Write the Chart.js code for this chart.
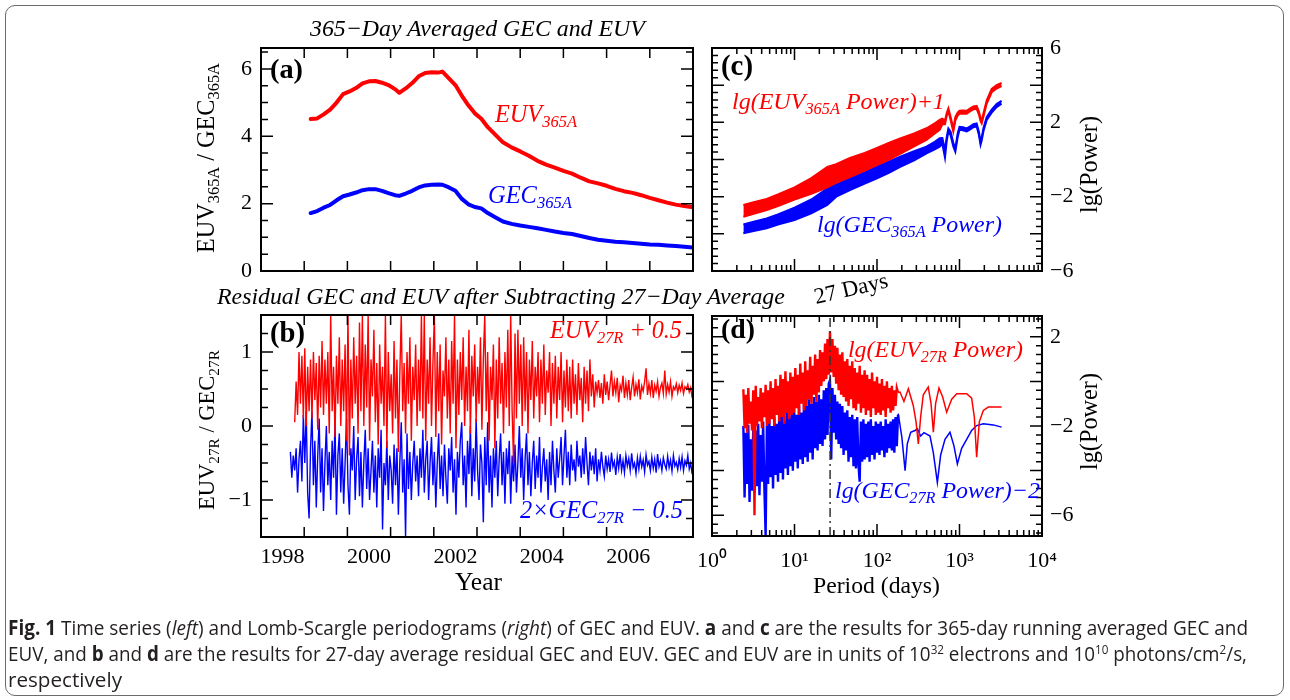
<!DOCTYPE html>
<html><head><meta charset="utf-8">
<script src="https://cdn.jsdelivr.net/npm/chart.js@4.4.1/dist/chart.umd.min.js"></script>
<style>
html,body{margin:0;padding:0;background:#fff;}
body{width:1290px;height:700px;position:relative;overflow:hidden;}
canvas{position:absolute;left:0;top:0;}
#frame{position:absolute;left:5px;top:5px;width:1277px;height:689px;border:1.5px solid #6b6b6b;border-radius:10px;}
.lbl{position:absolute;white-space:nowrap;line-height:1;}
.lbl sub{font-size:0.68em;vertical-align:-0.3em;line-height:0;}
.lbl sup{font-size:0.62em;vertical-align:0.55em;line-height:0;}
.bl{display:inline-block;width:0;height:0;vertical-align:baseline;}
</style></head><body>
<div id="frame"></div>
<canvas id="cA" width="1290" height="700"></canvas>
<canvas id="cB" width="1290" height="700"></canvas>
<canvas id="cC" width="1290" height="700"></canvas>
<canvas id="cD" width="1290" height="700"></canvas>
<script>
// ================= DATA =================
// (a) 365-day averaged series
const aYears = [1998.65,1998.8,1998.95,1999.1,1999.25,1999.4,1999.55,1999.7,1999.85,2000.0,2000.15,2000.3,2000.45,2000.6,2000.7,2000.85,2001.0,2001.15,2001.3,2001.45,2001.6,2001.7,2001.85,2002.0,2002.15,2002.3,2002.45,2002.6,2002.75,2002.9,2003.1,2003.3,2003.5,2003.7,2003.9,2004.1,2004.3,2004.5,2004.7,2004.9,2005.1,2005.3,2005.5,2005.7,2005.9,2006.1,2006.3,2006.5,2006.7,2006.9,2007.1,2007.3,2007.5];
const aEUV = [4.51,4.53,4.65,4.79,5.0,5.25,5.33,5.43,5.57,5.63,5.64,5.59,5.52,5.40,5.29,5.42,5.58,5.78,5.88,5.90,5.89,5.92,5.72,5.52,5.20,4.92,4.68,4.52,4.27,4.08,3.82,3.67,3.55,3.42,3.27,3.16,3.07,2.97,2.89,2.77,2.66,2.60,2.53,2.44,2.37,2.32,2.25,2.17,2.10,2.03,1.97,1.93,1.89];
const aGEC = [1.72,1.78,1.88,1.96,2.10,2.22,2.27,2.33,2.40,2.43,2.43,2.38,2.31,2.25,2.23,2.30,2.38,2.48,2.54,2.56,2.57,2.56,2.48,2.38,2.14,1.98,1.90,1.86,1.72,1.61,1.47,1.40,1.35,1.31,1.27,1.22,1.17,1.13,1.10,1.04,0.98,0.93,0.90,0.87,0.85,0.83,0.81,0.79,0.78,0.76,0.74,0.72,0.70];

// (b) 27-day residuals (regular sampling, 30 per year)
const bEUVStart = 1998.28, bGECStart = 1998.18, bStep = 1/30;
const bEUV = [0.05,0.6,0.15,1.0,0.3,0.95,0.1,1.05,0.0,0.8,
0.2,0.9,0.1,1.0,0.35,0.85,-0.05,0.95,0.25,1.15,0.15,0.9,0.3,1.0,-0.1,1.5,0.2,0.8,-0.15,0.95,
0.3,1.2,0.0,0.9,0.2,1.1,-0.2,1.5,-0.4,0.9,
0.1,1.2,0.3,0.95,-0.1,1.4,0.2,1.5,0.0,1.1,0.25,1.5,-0.2,0.9,0.4,1.3,0.05,0.85,-0.25,1.1,
0.3,0.8,0.0,1.5,-0.3,1.0,0.2,0.7,-0.1,1.15,
0.1,0.9,-0.35,0.7,1.5,0.2,0.85,-0.1,1.0,0.3,1.2,-0.2,0.8,0.35,1.1,0.0,0.9,0.2,1.5,0.1,
1.5,-0.2,0.9,0.3,1.2,0.0,0.85,1.5,-0.15,1.0,
0.2,1.1,-0.25,0.75,0.4,1.2,0.1,0.9,-0.1,1.15,0.3,1.5,-0.3,0.9,0.15,1.0,0.35,1.2,0.0,0.8,
0.2,1.3,-0.1,0.95,0.4,1.1,0.05,0.8,0.3,1.2,
-0.05,0.9,1.5,0.2,1.0,-0.2,0.8,0.35,1.1,-0.3,0.9,0.1,1.2,0.3,0.85,-0.1,1.0,0.25,1.3,0.0,
1.5,0.2,-0.5,1.25,0.1,1.3,0.3,1.1,0.0,1.2,
0.2,1.0,-0.1,0.9,0.35,1.15,0.1,0.8,0.4,1.0,0.05,0.9,0.3,1.1,0.15,0.75,0.45,1.0,0.0,0.85,
0.3,0.95,0.1,0.8,0.35,1.0,0.05,0.75,0.25,0.9,
0.2,0.8,0.1,0.9,0.3,0.7,0.15,0.85,0.35,0.65,0.05,0.8,0.3,0.75,0.2,0.9,0.4,0.7,0.25,0.6,
0.45,0.62,0.38,0.58,0.3,0.7,0.42,0.6,0.35,0.55,0.75,0.4,0.6,0.45,0.65,0.32,0.55,0.48,0.68,0.38,
0.58,0.42,0.62,0.35,0.52,0.66,0.4,0.56,0.45,0.63,0.36,0.54,0.47,0.6,0.78,0.42,0.57,0.44,0.62,0.38,
0.55,0.47,0.6,0.4,0.52,0.58,0.44,0.75,0.43,0.56,0.46,0.6,0.4,0.53,0.49,0.57,0.45,0.55,0.48,0.58,
0.44,0.53,0.5,0.56,0.46,0.52,0.38];
const bGEC = [-0.35,-0.7,-0.4,-0.6,-0.3,-0.9,-0.45,-0.2,-0.75,0.15,
-0.5,0.2,-0.9,-1.25,-0.3,0.2,-0.8,-0.2,-1.1,-0.4,0.1,-0.9,-0.3,-1.15,-0.5,0.0,-0.8,-0.35,-1.0,-0.2,
-0.7,0.05,-1.2,-0.4,-0.1,-0.9,-0.3,-1.05,-0.5,0.1,
-0.8,-1.2,-0.3,-0.6,0.0,-1.0,-0.45,-0.15,-0.95,-0.35,-1.1,-0.5,-0.05,-0.85,-0.3,-1.0,-0.6,-0.2,-0.9,-0.4,
-1.1,-0.3,-0.7,-0.05,-1.4,-0.5,-0.8,-0.2,-1.0,-0.4,
-0.6,-1.05,-0.25,-0.8,-0.3,-1.2,-0.5,0.05,-0.9,-0.45,-1.5,-0.1,-0.85,-0.35,-1.0,-0.5,-0.2,-0.75,-0.4,-0.95,
-0.3,-0.7,-0.05,-0.9,-0.45,-0.2,-1.0,-0.5,-0.15,-0.8,
-0.35,-1.1,-0.5,-0.1,-0.85,-0.4,-0.95,-0.25,-0.7,-1.05,-0.3,-0.6,-0.15,-0.9,-0.45,-1.2,-0.35,-0.7,-0.2,0.05,
-0.8,-0.4,-1.1,-0.2,-0.65,0.0,-0.95,-0.3,-0.75,0.1,
-0.6,-1.0,-0.25,-0.5,-1.3,-0.15,-0.8,0.05,-0.9,-0.4,-1.1,-0.3,-0.7,-0.2,-0.95,-0.45,-0.1,-0.8,-0.35,-1.05,
-0.3,-0.65,-0.2,-1.05,-0.4,-0.75,-0.25,-0.9,-0.5,0.0,
-0.7,-0.3,-1.0,-0.45,-0.1,-0.8,-0.35,-0.95,-0.5,-0.2,-0.85,-0.4,-0.7,-0.15,-0.9,-0.55,-0.3,-0.75,-0.45,-1.0,
-0.35,-0.8,-0.2,-0.6,-0.9,-0.3,-0.7,-0.45,-0.15,-0.8,
-0.4,-0.05,-0.7,-0.35,-0.8,-0.25,-0.6,-0.45,-0.75,-0.2,-0.55,-0.4,-0.7,-0.3,-0.65,-0.15,-0.5,-0.8,-0.35,-0.6,
-0.4,-0.65,-0.3,-0.75,-0.45,-0.6,-0.35,-0.55,-0.68,-0.4,-0.58,-0.45,-0.62,-0.36,-0.55,-0.48,-0.66,-0.42,-0.57,-0.38,
-0.6,-0.47,-0.63,-0.4,-0.54,-0.44,-0.6,-0.37,-0.56,-0.5,-0.64,-0.43,-0.58,-0.41,-0.55,-0.46,-0.62,-0.39,-0.53,-0.48,
-0.6,-0.42,-0.57,-0.45,-0.63,-0.38,-0.55,-0.47,-0.6,-0.43,-0.52,-0.58,-0.41,-0.56,-0.46,-0.61,-0.4,-0.54,-0.49,-0.59,
-0.44,-0.56,-0.42,-0.6,-0.47,-0.53,-0.4,-0.58,-0.5,-0.65];

// (c) periodograms of 365-day averages: upper/lower edges of the plotted band
const cPeriods = [2.4,3.2,4.6,6.3,10,16,25,32,47,71,100,141,191,282,398,501,575,620,667,700,733,780,841,890,950,1000,1100,1222,1350,1472,1614,1720,1800,1858,1950,2133,2455,2818,3236];
const cEUVHi = [-2.45,-2.3,-2.12,-1.88,-1.5,-1.0,-0.4,-0.25,0.08,0.35,0.62,0.9,1.14,1.4,1.68,1.95,2.13,2.2,2.1,2.5,2.75,2.3,1.65,2.28,2.52,2.62,2.64,2.62,2.76,2.86,2.89,2.58,2.22,2.1,2.48,3.17,3.8,4.0,4.12];
const cEUVLo = [-3.08,-2.92,-2.72,-2.5,-2.16,-1.85,-1.5,-1.25,-0.95,-0.6,-0.3,0.0,0.3,0.7,1.05,1.4,1.6,1.9,1.9,2.35,2.6,2.12,1.5,2.1,2.36,2.46,2.48,2.46,2.6,2.7,2.73,2.42,2.06,1.94,2.3,3.0,3.62,3.82,3.95];
const cGECHi = [-3.49,-3.35,-3.17,-2.95,-2.59,-2.15,-1.55,-1.35,-1.01,-0.7,-0.39,-0.1,0.15,0.45,0.69,0.95,1.14,1.15,0.5,1.2,1.67,1.5,0.9,0.6,1.4,1.76,1.73,1.67,1.78,1.9,1.94,1.48,0.95,1.18,1.68,2.28,2.68,2.98,3.16];
const cGECLo = [-3.97,-3.85,-3.7,-3.5,-3.26,-2.9,-2.45,-2.0,-1.64,-1.3,-1.01,-0.7,-0.39,-0.05,0.33,0.55,0.69,0.85,0.1,1.0,1.5,1.3,0.7,0.42,1.2,1.6,1.57,1.51,1.62,1.74,1.78,1.32,0.79,1.02,1.52,2.12,2.52,2.82,3.0];

// (d) periodograms of 27-day residuals; dense part sampled on a regular lg(period) grid
const dDenseLog0 = 0.38, dDenseLogStep = 0.015;
const dEUVDense = [-0.35,-2.1,-0.6,-2.3,-0.3,-1.9,-0.9,-2.2,-0.4,-6.0,
-0.2,-2.0,-0.7,-1.8,-0.3,-2.1,-0.5,-1.6,-0.15,-2.0,
-0.4,-1.9,0.0,-1.7,-0.3,-2.0,0.1,-1.5,-0.2,-1.8,
0.3,-1.6,0.1,-1.9,0.45,-1.4,0.0,-1.7,0.4,-1.5,
0.2,-1.4,0.6,-1.2,0.3,-1.5,0.8,-1.0,0.4,-1.3,
0.9,-1.1,0.5,-0.8,1.1,-1.0,0.7,-0.6,1.2,-0.9,
1.0,-0.5,1.4,-0.2,1.3,0.0,1.7,0.1,1.9,0.3,
2.25,0.4,1.9,0.2,1.6,-0.1,1.5,-0.4,1.2,-0.6,
1.3,-0.7,0.9,-0.9,1.0,-1.1,0.7,-0.8,0.9,-1.2,
0.6,-1.3,0.4,-1.0,0.7,-1.4,0.3,-1.2,0.5,-1.5,
0.3,-1.3,0.1,-1.6,0.4,-1.2,0.0,-1.5,0.2,-1.4,
-0.1,-1.5,0.1,-1.3,-0.2,-1.6,0.0,-1.2,-0.3,-1.4,
-0.2,-1.3,-0.4,-1.1,-0.3,-0.5];
const dGECDense = [-2.0,-5.2,-2.3,-4.6,-1.95,-5.4,-2.6,-4.9,-2.1,-5.0,
-2.2,-4.7,-1.9,-5.1,-2.4,-4.5,-1.8,-4.8,-6.9,-2.0,
-4.6,-1.7,-4.3,-2.0,-4.8,-1.6,-4.2,-1.9,-4.5,-1.5,
-4.1,-1.4,-4.4,-1.8,-3.9,-1.3,-4.2,-1.6,-3.8,-1.4,
-4.0,-1.2,-3.6,-1.5,-3.9,-1.1,-3.5,-1.4,-3.7,-1.0,
-3.4,-1.1,-3.6,-0.8,-3.2,-1.0,-3.5,-0.7,-3.0,-0.9,
-3.1,-0.6,-2.8,-0.8,-2.9,-0.4,-2.6,-0.3,-2.4,-0.1,
0.05,-3.5,-0.3,-2.3,-0.6,-2.6,-0.9,-2.8,-1.0,-3.0,
-1.1,-3.3,-1.4,-3.1,-1.3,-3.6,-1.6,-3.4,-1.5,-3.8,
-1.7,-3.9,-1.6,-3.7,-4.5,-1.8,-3.6,-1.7,-3.5,-1.9,
-3.4,-1.8,-3.6,-1.7,-3.3,-2.0,-3.5,-1.8,-3.2,-1.9,
-3.3,-1.8,-3.1,-2.0,-3.4,-1.7,-3.2,-1.9,-3.0,-1.8,
-3.1,-1.7,-3.2,-1.6,-2.9,-1.5];
const dEUVTailP = [190,212,240,275,297,317,338,364,418,452,482,513,564,625,699,804,925,1222,1404,1513,1614,1740,1945,2238,3243];
const dEUVTail  = [-0.48,-0.9,-0.33,-1.08,-1.8,-2.8,-1.6,-0.6,-0.25,-1.0,-2.28,-1.0,-0.3,-0.7,-1.38,-0.8,-0.55,-0.55,-0.75,-1.6,-3.4,-1.8,-1.3,-1.15,-1.15];
const dGECTailP = [181,200,219,233,256,289,309,338,371,439,482,539,591,667,767,858,942,1062,1222,1404,1614,1945,2570,3243];
const dGECTail  = [-1.45,-2.5,-4.0,-2.8,-2.28,-2.2,-2.13,-2.45,-2.3,-2.45,-3.2,-4.53,-3.3,-2.6,-2.28,-2.9,-3.7,-3.0,-2.6,-2.2,-1.98,-1.9,-1.95,-2.05];
const dMarkPeriod = 27;

// tick labels
const yearTickLabels = [1998,2000,2002,2004,2006];
const yearTickMarks = [1998.5,1999.5,2000.5,2001.5,2002.5,2003.5,2004.5,2005.5,2006.5];
const logTickValues = [1,10,100,1000,10000];
const logTickLabels = ['10\u2070','10\u00B9','10\u00B2','10\u00B3','10\u2074'];
const aYTicks = [0,2,4,6];
const bYTicks = [-1,0,1];
const cYTicks = [-6,-2,2,6];
const dYTicks = [-6,-2,2];

// ================= HELPERS =================
const RED = '#ff0000', BLUE = '#0000ff';
const steps = (a,b,s) => { const r=[]; for(let v=a; v<=b+1e-9; v+=s) r.push(Math.round(v*1000)/1000); return r; };
const logMinor = [];
[1,10,100,1000].forEach(d => { for (let k=2;k<=9;k++) logMinor.push(k*d); });
const minus = v => (v<0 ? '\u2212' : '') + Math.abs(v);
const tickFont = {family:'"Liberation Serif", "Times New Roman", serif', size:22};
const pts = (xs, ys) => ys.map((y,i) => ({x: xs[i], y}));
const reg = (x0, dx, ys) => ys.map((y,i) => ({x: x0 + i*dx, y}));
const regLog = (l0, dl, ys) => ys.map((y,i) => ({x: Math.pow(10, l0 + i*dl), y}));

const idlBox = {
  id:'idlBox',
  afterDatasetsDraw(chart, args, o) {
    const {ctx, chartArea:ca} = chart;
    const xs = chart.scales.x, ys = chart.scales.y;
    ctx.save();
    ctx.strokeStyle = '#000';
    ctx.lineWidth = 1.5;
    ctx.beginPath();
    const xt = (list, len) => list.forEach(v => {
      const p = xs.getPixelForValue(v);
      ctx.moveTo(p, ca.bottom); ctx.lineTo(p, ca.bottom - len);
      ctx.moveTo(p, ca.top); ctx.lineTo(p, ca.top + len);
    });
    const yt = (list, len) => list.forEach(v => {
      const p = ys.getPixelForValue(v);
      ctx.moveTo(ca.left, p); ctx.lineTo(ca.left + len, p);
      ctx.moveTo(ca.right, p); ctx.lineTo(ca.right - len, p);
    });
    xt(o.xMajor || [], o.xMajorLen || 10);
    xt(o.xMinor || [], o.xMinorLen || 5);
    yt(o.yMajor || [], o.yMajorLen || 12);
    yt(o.yMinor || [], o.yMinorLen || 6);
    ctx.stroke();
    ctx.lineWidth = 2;
    ctx.strokeRect(ca.left, ca.top, ca.right - ca.left, ca.bottom - ca.top);
    ctx.restore();
  }
};

function baseOptions(pad, scales, box) {
  return {
    responsive:false, animation:false, devicePixelRatio:1,
    layout:{padding:pad},
    elements:{point:{radius:0}, line:{tension:0}},
    plugins:{legend:{display:false}, tooltip:{enabled:false}, idlBox:box},
    scales
  };
}
const hiddenX = (type, min, max) => ({type, min, max, grid:{display:false}, border:{display:false}, ticks:{display:false}, afterFit:s=>{s.height=0;}});
const yAxis = (pos, min, max, list, pad) => ({type:'linear', position:pos, min, max,
  grid:{display:false, drawTicks:false}, border:{display:false},
  ticks:{font:tickFont, color:'#000', padding:pad, callback:v=>minus(v)},
  afterBuildTicks:s=>{s.ticks = list.map(v=>({value:v}));}, afterFit:s=>{s.width=50;}});

// ================= (a) =================
new Chart(document.getElementById('cA'), {
  type:'line',
  data:{datasets:[
    {data:pts(aYears, aEUV), borderColor:RED, borderWidth:4, borderCapStyle:'round', borderJoinStyle:'round'},
    {data:pts(aYears, aGEC), borderColor:BLUE, borderWidth:4, borderCapStyle:'round', borderJoinStyle:'round'}
  ]},
  options: baseOptions({left:211, right:597, top:48, bottom:429}, {
    x: hiddenX('linear', 1997.5, 2007.5),
    y: yAxis('left', 0, 6.62, aYTicks, 9)
  }, {xMajor:yearTickMarks, xMajorLen:10, yMajor:aYTicks, yMinor:steps(0.5,6.5,0.5).filter(v=>v%2!==0), yMajorLen:12, yMinorLen:7}),
  plugins:[idlBox]
});

// ================= (b) =================
new Chart(document.getElementById('cB'), {
  type:'line',
  data:{datasets:[
    {data:reg(bEUVStart, bStep, bEUV), borderColor:RED, borderWidth:1.4},
    {data:reg(bGECStart, bStep, bGEC), borderColor:BLUE, borderWidth:1.4}
  ]},
  options: baseOptions({left:211, right:597, top:315, bottom:123}, {
    x: {type:'linear', min:1997.5, max:2007.5, grid:{display:false, drawTicks:false}, border:{display:false},
        ticks:{font:tickFont, color:'#000', padding:7, autoSkip:false, maxRotation:0, callback:v=>String(v)},
        afterBuildTicks:s=>{s.ticks = yearTickLabels.map(v=>({value:v}));}, afterFit:s=>{s.height=40;}},
    y: yAxis('left', -1.5, 1.5, bYTicks, 9)
  }, {xMajor:yearTickMarks, xMajorLen:10, yMajor:bYTicks, yMinor:[-1.25,-0.75,-0.5,-0.25,0.25,0.5,0.75,1.25], yMajorLen:12, yMinorLen:7}),
  plugins:[idlBox]
});

// ================= (c) =================
new Chart(document.getElementById('cC'), {
  type:'line',
  data:{datasets:[
    {data:pts(cPeriods, cEUVHi), borderColor:RED, borderWidth:2, fill:'+1', backgroundColor:RED},
    {data:pts(cPeriods, cEUVLo), borderColor:RED, borderWidth:2},
    {data:pts(cPeriods, cGECHi), borderColor:BLUE, borderWidth:2, fill:'+1', backgroundColor:BLUE},
    {data:pts(cPeriods, cGECLo), borderColor:BLUE, borderWidth:2}
  ]},
  options: baseOptions({left:712, right:198, top:48, bottom:429}, {
    x: hiddenX('logarithmic', 1, 10000),
    y: yAxis('right', -6, 6, cYTicks, 8)
  }, {xMajor:logTickValues, xMinor:logMinor, xMajorLen:12, xMinorLen:6, yMajor:steps(-6,6,2), yMinor:steps(-5.6,5.6,0.4).filter(v=>Math.abs(v%2)>0.01), yMajorLen:12, yMinorLen:6}),
  plugins:[idlBox]
});

// ================= (d) =================
const dEUVDensePts = regLog(dDenseLog0, dDenseLogStep, dEUVDense);
const dGECDensePts = regLog(dDenseLog0, dDenseLogStep, dGECDense);
new Chart(document.getElementById('cD'), {
  type:'line',
  data:{datasets:[
    {data:[{x:dMarkPeriod, y:-6.93},{x:dMarkPeriod, y:2.93}], borderColor:'#333', borderWidth:1.5, borderDash:[9,4,2,4]},
    {data:dEUVDensePts, borderColor:RED, borderWidth:2.4},
    {data:[dEUVDensePts[dEUVDensePts.length-1]].concat(pts(dEUVTailP, dEUVTail)), borderColor:RED, borderWidth:1.5},
    {data:dGECDensePts, borderColor:BLUE, borderWidth:2.4},
    {data:[dGECDensePts[dGECDensePts.length-1]].concat(pts(dGECTailP, dGECTail)), borderColor:BLUE, borderWidth:1.5}
  ]},
  options: baseOptions({left:712, right:198, top:316, bottom:124}, {
    x: {type:'logarithmic', min:1, max:10000, grid:{display:false, drawTicks:false}, border:{display:false},
        ticks:{font:tickFont, color:'#000', padding:12, autoSkip:false, maxRotation:0, callback:(v,i)=>logTickLabels[i]},
        afterBuildTicks:s=>{s.ticks = logTickValues.map(v=>({value:v}));}, afterFit:s=>{s.height=40;}},
    y: yAxis('right', -6.93, 2.93, dYTicks, 8)
  }, {xMajor:logTickValues, xMinor:logMinor, xMajorLen:12, xMinorLen:6, yMajor:steps(-6,2,2), yMinor:steps(-6.8,2.8,0.4).filter(v=>Math.abs(v%2)>0.01), yMajorLen:12, yMinorLen:6}),
  plugins:[idlBox]
});

// ================= TEXT =================
const capL1 = '<b>Fig. 1</b> Time series (<i>left</i>) and Lomb-Scargle periodograms (<i>right</i>) of GEC and EUV. <b>a</b> and <b>c</b> are the results for 365-day running averaged GEC and';
const capL2 = 'EUV, and <b>b</b> and <b>d</b> are the results for 27-day average residual GEC and EUV. GEC and EUV are in units of 10<sup>32</sup> electrons and 10<sup>10</sup> photons/cm<sup>2</sup>/s,';
const texts = [
  {h:'365\u2212Day Averaged GEC and EUV', f:'italic', l:310, r:645, b:36},
  {h:'Residual GEC and EUV after Subtracting 27\u2212Day Average', f:'italic', l:217, r:785, b:304},
  {h:'(a)', f:'bold', l:270, r:303, b:78},
  {h:'(b)', f:'bold', l:270, r:305, b:342},
  {h:'(c)', f:'bold', l:721, r:753, b:75},
  {h:'(d)', f:'bold', l:721, r:755, b:338},
  {h:'EUV<sub>365A</sub>', f:'italic', c:RED, l:495, r:577, b:122},
  {h:'GEC<sub>365A</sub>', f:'italic', c:BLUE, l:488, r:572, b:203},
  {h:'lg(EUV<sub>365A</sub> Power)+1', f:'italic', c:RED, l:732, r:945, b:109},
  {h:'lg(GEC<sub>365A</sub> Power)', f:'italic', c:BLUE, l:817, r:1002, b:232},
  {h:'EUV<sub>27R</sub> + 0.5', f:'italic', c:RED, l:550, r:682, b:338},
  {h:'2\u00D7GEC<sub>27R</sub> \u2212 0.5', f:'italic', c:BLUE, l:520, r:683, b:518},
  {h:'lg(EUV<sub>27R</sub> Power)', f:'italic', c:RED, l:848, r:1023, b:357},
  {h:'lg(GEC<sub>27R</sub> Power)\u22122', f:'italic', c:BLUE, l:835, r:1040, b:498},
  {h:'Year', l:455, r:502, b:590},
  {h:'Period (days)', l:813, r:940, b:593},
  {h:'EUV<sub>365A</sub> / GEC<sub>365A</sub>', rot:-90, ox:214, oy:253, len:190},
  {h:'EUV<sub>27R</sub> / GEC<sub>27R</sub>', rot:-90, ox:214, oy:510, len:160},
  {h:'lg(Power)', rot:-90, ox:1097, oy:213, len:97},
  {h:'lg(Power)', rot:-90, ox:1097, oy:470, len:97},
  {h:'27 Days', rot:-13, ox:816, oy:304, len:75},
  {h:capL1, cap:true, l:8, r:1248, b:635},
  {h:capL2, cap:true, l:8, r:1247, b:661},
  {h:'respectively', cap:true, l:8, r:122, b:687}
];
texts.forEach(it => {
  const d = document.createElement('div');
  d.className = 'lbl';
  const size = it.cap ? 20.5 : 24;
  d.style.fontFamily = it.cap ? '"Open Sans", "DejaVu Sans", sans-serif' : '"Liberation Serif", "Times New Roman", serif';
  d.style.fontStyle = it.f === 'italic' ? 'italic' : 'normal';
  d.style.fontWeight = it.f === 'bold' ? 'bold' : 'normal';
  d.style.fontSize = size + 'px';
  d.style.color = it.c || (it.cap ? '#231f20' : '#000');
  d.innerHTML = it.h + '<span class="bl"></span>';
  d.style.left = '0px'; d.style.top = '0px';
  document.body.appendChild(d);
  const target = it.rot ? it.len : (it.r - it.l);
  const w = d.getBoundingClientRect().width;
  let sx = 1;
  if (it.cap) sx = target / w; else d.style.fontSize = (size * target / w) + 'px';
  const r0 = d.getBoundingClientRect();
  const bl = d.querySelector('.bl').getBoundingClientRect().top - r0.top;
  const ox = it.rot ? it.ox : it.l, oy = it.rot ? it.oy : it.b;
  d.style.left = ox + 'px';
  d.style.top = (oy - bl) + 'px';
  d.style.transformOrigin = '0px ' + bl + 'px';
  const tf = [];
  if (it.rot) tf.push('rotate(' + it.rot + 'deg)');
  if (sx !== 1) tf.push('scaleX(' + sx + ')');
  d.style.transform = tf.join(' ');
});
</script>
</body></html>
